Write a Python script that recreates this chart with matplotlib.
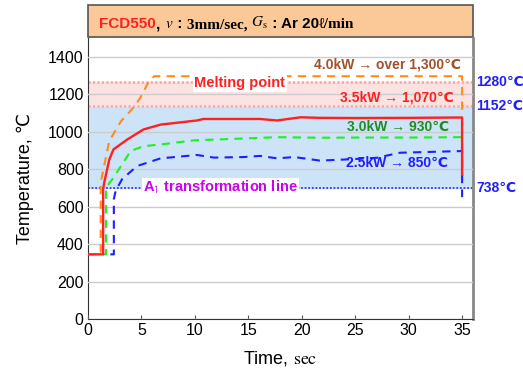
import numpy as np
import matplotlib
matplotlib.use('Agg')
import matplotlib.pyplot as plt
from matplotlib.patches import Rectangle
from matplotlib.text import Annotation

plt.rcParams['font.family'] = ['Liberation Sans', 'DejaVu Sans']
plt.rcParams['mathtext.fontset'] = 'stix'

# data (time in sec, temperature in deg C)
t_40 = [0, 1.2, 1.2, 2.0, 3.1, 4.1, 4.9, 5.7, 6.2, 35, 35]
T_40 = [345, 345, 728, 949, 1055, 1117, 1179, 1267, 1295, 1295, 1095]

t_35 = [0, 1.43, 1.43, 1.5, 2.0, 2.4, 3.7, 5.2, 6.8, 10.2, 10.8, 16.1, 17.7, 19.9, 21.7, 25, 30, 35, 35]
T_35 = [345, 345, 690, 719, 850, 905, 958, 1011, 1037, 1059, 1067, 1067, 1059, 1076, 1073, 1072, 1073, 1075, 770]

t_30 = [1.43, 1.7, 1.7, 2.4, 4.0, 5.2, 6.8, 9.9, 14.6, 17.7, 21.7, 25, 30, 35, 35]
T_30 = [345, 345, 701, 754, 896, 922, 931, 953, 963, 970, 967, 968, 968, 970, 715]

t_25 = [2.1, 2.43, 2.43, 2.6, 3.2, 4.6, 6.8, 10.2, 11.8, 14.6, 16.1, 17.7, 19.3, 21.7, 24.5, 27, 29.2, 35, 35]
T_25 = [345, 345, 640, 684, 746, 816, 857, 875, 861, 864, 870, 857, 864, 845, 852, 860, 887, 896, 650]

melt_lo, melt_hi = 1135, 1262
a1_line = 700

fig = plt.figure(figsize=(5.23, 3.78), dpi=100)
ax = fig.add_axes([0.168, 0.156, 0.736, 0.744])

# bands
ax.axhspan(a1_line, melt_lo, color='#CCE3F8', zorder=0)
ax.axhspan(melt_lo, melt_hi, color='#FDE2E2', zorder=0)
ax.axhline(melt_hi, color='#FFA8A8', lw=2, ls=(0, (0.8, 0.8)), zorder=1)
ax.axhline(melt_lo, color='#FFA8A8', lw=2, ls=(0, (0.8, 0.8)), zorder=1)
ax.axhline(a1_line, color='#3333FF', lw=1.3, ls=(0, (1, 1)), zorder=2)

ax.set_yticks(range(0, 1401, 200))
ax.grid(axis='y', color='#CCCCCC', lw=1, zorder=1)
ax.set_axisbelow(False)

ax.plot(t_40, T_40, color='#FF8C1A', lw=1.5, ls=(0, (4, 3)), zorder=3)
ax.plot(t_35, T_35, color='#FF2020', lw=1.7, zorder=4)
ax.plot(t_30, T_30, color='#22EE22', lw=1.5, ls=(0, (4, 3)), zorder=3)
ax.plot(t_25, T_25, color='#1F1FFF', lw=1.5, ls=(0, (4, 3)), zorder=3)

ax.set_xlim(0, 36)
ax.set_ylim(0, 1500)
ax.set_xticks(range(0, 36, 5))
ax.tick_params(axis='x', direction='in', length=3, labelsize=11.5, color='#555555', pad=3)
ax.tick_params(axis='y', length=0, labelsize=11.5, pad=3)
for s in ['left', 'bottom']:
    ax.spines[s].set_color('#333333')
ax.spines['right'].set_color('#888888')
ax.spines['right'].set_linewidth(2)
ax.spines['top'].set_visible(False)

ax.set_ylabel('Temperature, \u2103', fontsize=13, labelpad=10)
ax.set_xlabel(r'Time, $\mathrm{sec}$', fontsize=13, labelpad=8)

# annotations
ax.text(28.0, 1357, '4.0kW \u2192 over 1,300\u2103', color='#A0522D', fontsize=10,
        fontweight='bold', ha='center', va='center', zorder=6)
ax.text(14.2, 1257, 'Melting point', color='#FF2020', fontsize=10.5, fontweight='bold',
        ha='center', va='center', zorder=6,
        bbox=dict(facecolor='white', edgecolor='none', pad=1))
ax.text(28.9, 1182, '3.5kW \u2192 1,070\u2103', color='#FF2020', fontsize=10,
        fontweight='bold', ha='center', va='center', zorder=6)
ax.text(29.0, 1023, '3.0kW \u2192 930\u2103', color='#228B22', fontsize=10,
        fontweight='bold', ha='center', va='center', zorder=6)
ax.text(28.9, 834, '2.5kW \u2192 850\u2103', color='#1F1FFF', fontsize=10,
        fontweight='bold', ha='center', va='center', zorder=6)
ax.text(12.4, 701, r'A$_\mathsf{1}$ transformation line', color='#CC00EE', fontsize=10.5,
        fontweight='bold', ha='center', va='center', zorder=6,
        bbox=dict(facecolor='white', edgecolor='none', pad=1))

# right side labels
for yv, lab in [(melt_hi, '1280\u2103'), (melt_lo, '1152\u2103'), (a1_line, '738\u2103')]:
    ax.text(36.3, yv, lab, color='#1F1FFF', fontsize=10, fontweight='bold',
            ha='left', va='center', clip_on=False)

# title box
box = Rectangle((0.168, 0.902), 0.736, 0.085, transform=fig.transFigure,
                facecolor='#FBC898', edgecolor='#555555', lw=1.2, zorder=-1)
fig.patches.append(box)
t1 = fig.text(0.19, 0.925, 'FCD550', color='#FF2020', fontsize=11, fontweight='bold', zorder=5)
parts = [(', ', 'sans'), (r'$\mathbf{\mathit{v}}$', 'sans'), (' : ', 'sans'),
         ('3mm/sec, ', 'serif'), (r'$\mathit{G}_{\mathrm{s}}$', 'sans'), (' : Ar 20', 'sans'),
         ('\u2113/min', 'serif')]
prev = t1
for txt, fam in parts:
    famname = 'Liberation Serif' if fam == 'serif' else 'Liberation Sans'
    a = Annotation(txt, xy=(1, 0), xycoords=prev, va='bottom', ha='left',
                   fontsize=11, fontweight='bold', color='black',
                   family=[famname, 'DejaVu Sans'], zorder=5)
    fig.add_artist(a)
    prev = a

fig.savefig('out.png', dpi=100)
